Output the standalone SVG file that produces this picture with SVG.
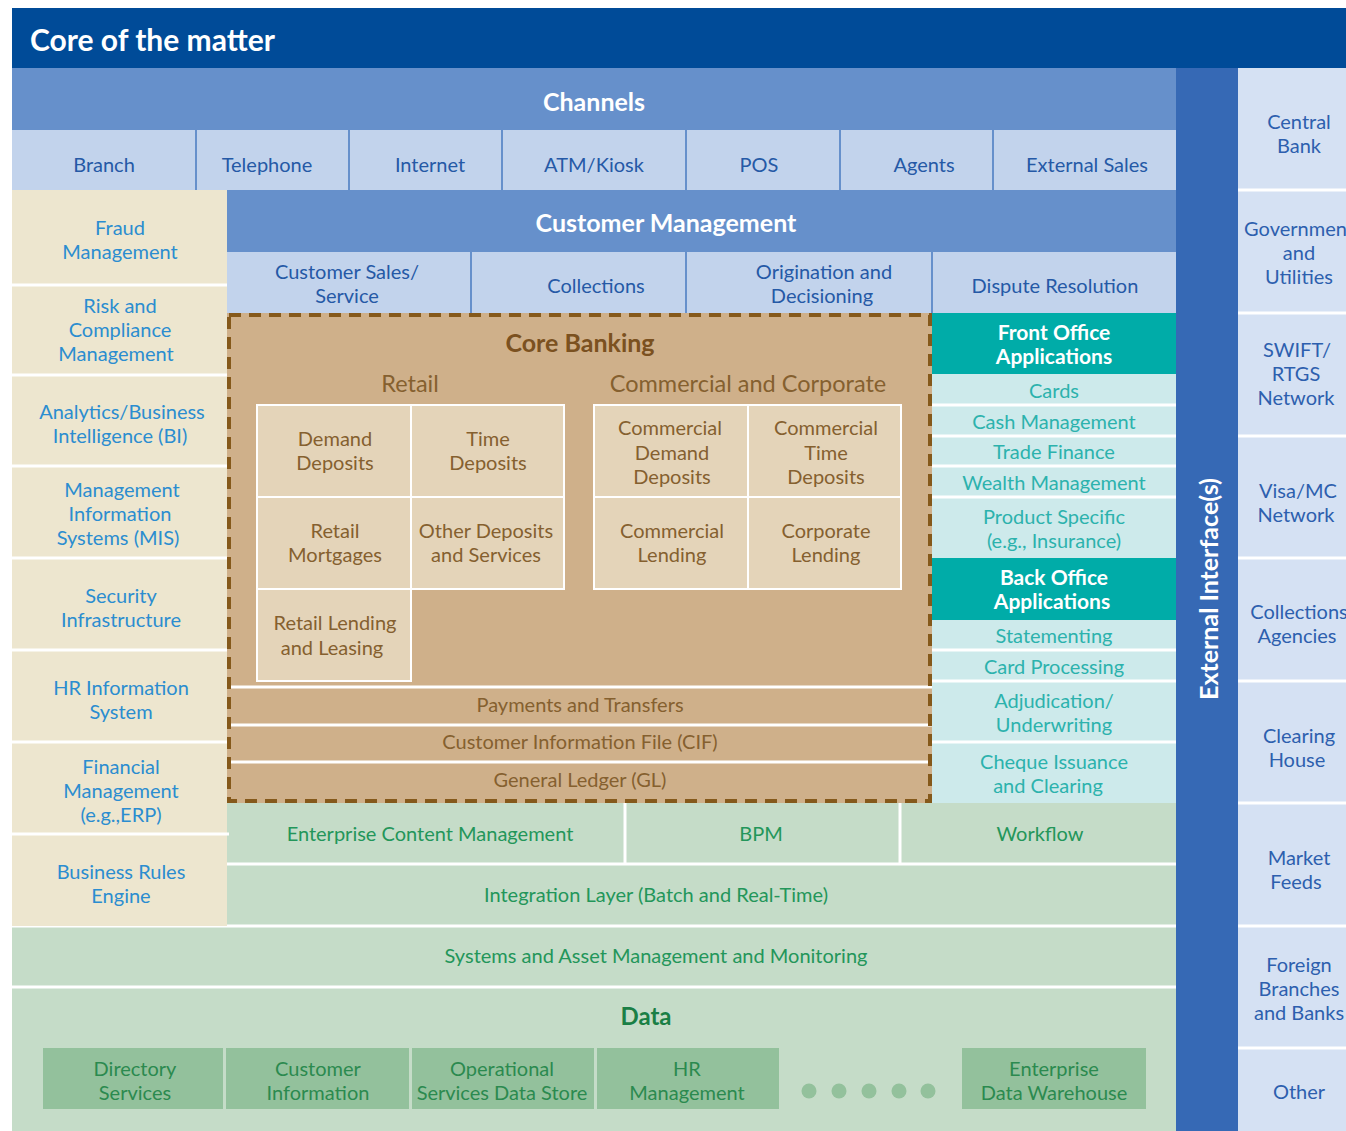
<svg xmlns="http://www.w3.org/2000/svg" width="1346" height="1131" viewBox="0 0 1346 1131">
<style>
text{font-family:Lato,"Open Sans","Liberation Sans",sans-serif;font-size:20px;text-anchor:middle}
.hd{font-weight:bold;font-size:25px;fill:#fff}
.ch{fill:#2559a6}
.lc{fill:#2b8dd0}
.rc{fill:#2d5fae}
.tn{fill:#85602f}
.tl{fill:#2cb2ad}
.gr{fill:#23965a}
.db{fill:#2b8a4f}
.wsep{stroke:#fff;stroke-width:3}
.bsep{stroke:#6690cb;stroke-width:2}
.inner{fill:#e4d4b9;stroke:#fff;stroke-width:2}
</style>
<rect x="0" y="0" width="1346" height="1131" fill="#fff"/>
<g id="header">
<rect x="12" y="8" width="1334" height="60" fill="#004b98"/>
<text x="30" y="51" style="text-anchor:start;font-weight:bold;font-size:30px;fill:#fff">Core of the matter</text>
</g>
<g id="channels">
<rect x="12" y="68" width="1164" height="62" fill="#6690cb"/>
<text class="hd" x="594" y="111">Channels</text>
<rect x="12" y="130" width="1164" height="60" fill="#c2d3ec"/>
<line class="bsep" x1="196" y1="130" x2="196" y2="190"/>
<line class="bsep" x1="349" y1="130" x2="349" y2="190"/>
<line class="bsep" x1="502" y1="130" x2="502" y2="190"/>
<line class="bsep" x1="686" y1="130" x2="686" y2="190"/>
<line class="bsep" x1="840" y1="130" x2="840" y2="190"/>
<line class="bsep" x1="993" y1="130" x2="993" y2="190"/>
<text class="ch" x="104" y="172">Branch</text>
<text class="ch" x="267" y="172">Telephone</text>
<text class="ch" x="430" y="172">Internet</text>
<text class="ch" x="594" y="172">ATM/Kiosk</text>
<text class="ch" x="759" y="172">POS</text>
<text class="ch" x="924" y="172">Agents</text>
<text class="ch" x="1087" y="172">External Sales</text>
</g>
<g id="green-layers">
<rect x="227" y="803" width="949" height="123" fill="#c5dcc8"/>
<rect x="12" y="926" width="1164" height="205" fill="#c5dcc8"/>
<line class="wsep" x1="625" y1="803" x2="625" y2="864"/>
<line class="wsep" x1="900" y1="803" x2="900" y2="864"/>
<line class="wsep" x1="227" y1="864" x2="1176" y2="864"/>
<line class="wsep" x1="12" y1="926" x2="1176" y2="926"/>
<line class="wsep" x1="12" y1="987" x2="1176" y2="987"/>
<text class="gr" x="430" y="841">Enterprise Content Management</text>
<text class="gr" x="761" y="841">BPM</text>
<text class="gr" x="1040" y="841">Workflow</text>
<text class="gr" x="656" y="902">Integration Layer (Batch and Real-Time)</text>
<text class="gr" x="656" y="963">Systems and Asset Management and Monitoring</text>
<text x="646" y="1025" style="font-weight:bold;font-size:24px;fill:#1a7f45">Data</text>
</g>
<g id="left-column">
<rect x="12" y="190" width="215" height="736" fill="#ede6cf"/>
<line class="wsep" x1="12" y1="285" x2="229" y2="285"/>
<line class="wsep" x1="12" y1="375" x2="229" y2="375"/>
<line class="wsep" x1="12" y1="466" x2="229" y2="466"/>
<line class="wsep" x1="12" y1="558" x2="229" y2="558"/>
<line class="wsep" x1="12" y1="650" x2="229" y2="650"/>
<line class="wsep" x1="12" y1="742" x2="229" y2="742"/>
<line class="wsep" x1="12" y1="834" x2="229" y2="834"/>
<text class="lc" x="120" y="235">Fraud</text>
<text class="lc" x="120" y="259">Management</text>
<text class="lc" x="120" y="313">Risk and</text>
<text class="lc" x="120" y="337">Compliance</text>
<text class="lc" x="116" y="361">Management</text>
<text class="lc" x="122" y="419">Analytics/Business</text>
<text class="lc" x="120" y="443">Intelligence (BI)</text>
<text class="lc" x="122" y="497">Management</text>
<text class="lc" x="120" y="521">Information</text>
<text class="lc" x="118" y="545">Systems (MIS)</text>
<text class="lc" x="121" y="603">Security</text>
<text class="lc" x="121" y="627">Infrastructure</text>
<text class="lc" x="121" y="695">HR Information</text>
<text class="lc" x="121" y="719">System</text>
<text class="lc" x="121" y="774">Financial</text>
<text class="lc" x="121" y="798">Management</text>
<text class="lc" x="121" y="822">(e.g.,ERP)</text>
<text class="lc" x="121" y="879">Business Rules</text>
<text class="lc" x="121" y="903">Engine</text>
</g>
<g id="customer-management">
<rect x="227" y="190" width="949" height="62" fill="#6690cb"/>
<text class="hd" x="666" y="232">Customer Management</text>
<rect x="227" y="252" width="949" height="61" fill="#c2d3ec"/>
<line class="bsep" x1="471" y1="252" x2="471" y2="313"/>
<line class="bsep" x1="686" y1="252" x2="686" y2="313"/>
<line class="bsep" x1="932" y1="252" x2="932" y2="313"/>
<text class="ch" x="347" y="279">Customer Sales/</text>
<text class="ch" x="347" y="303">Service</text>
<text class="ch" x="596" y="293">Collections</text>
<text class="ch" x="824" y="279">Origination and</text>
<text class="ch" x="822" y="303">Decisioning</text>
<text class="ch" x="1055" y="293">Dispute Resolution</text>
</g>
<g id="core-banking">
<rect x="227" y="313" width="705" height="490" fill="#cfb08a"/>
<text x="580" y="352" style="font-weight:bold;font-size:25px;fill:#7b5120">Core Banking</text>
<text class="tn" x="410" y="392" style="font-size:23.5px">Retail</text>
<text class="tn" x="748" y="392" style="font-size:23.5px">Commercial and Corporate</text>
<rect class="inner" x="257" y="405" width="154" height="92"/>
<rect class="inner" x="411" y="405" width="153" height="92"/>
<rect class="inner" x="257" y="497" width="154" height="92"/>
<rect class="inner" x="411" y="497" width="153" height="92"/>
<rect class="inner" x="257" y="589" width="154" height="92"/>
<rect class="inner" x="594" y="405" width="154" height="92"/>
<rect class="inner" x="748" y="405" width="153" height="92"/>
<rect class="inner" x="594" y="497" width="154" height="92"/>
<rect class="inner" x="748" y="497" width="153" height="92"/>
<text class="tn" x="335" y="446">Demand</text>
<text class="tn" x="335" y="470">Deposits</text>
<text class="tn" x="488" y="446">Time</text>
<text class="tn" x="488" y="470">Deposits</text>
<text class="tn" x="670" y="435">Commercial</text>
<text class="tn" x="672" y="460">Demand</text>
<text class="tn" x="672" y="484">Deposits</text>
<text class="tn" x="826" y="435">Commercial</text>
<text class="tn" x="826" y="460">Time</text>
<text class="tn" x="826" y="484">Deposits</text>
<text class="tn" x="335" y="538">Retail</text>
<text class="tn" x="335" y="562">Mortgages</text>
<text class="tn" x="486" y="538">Other Deposits</text>
<text class="tn" x="486" y="562">and Services</text>
<text class="tn" x="672" y="538">Commercial</text>
<text class="tn" x="672" y="562">Lending</text>
<text class="tn" x="826" y="538">Corporate</text>
<text class="tn" x="826" y="562">Lending</text>
<text class="tn" x="335" y="630">Retail Lending</text>
<text class="tn" x="332" y="655">and Leasing</text>
<line class="wsep" x1="227" y1="687" x2="932" y2="687"/>
<line class="wsep" x1="227" y1="725" x2="932" y2="725"/>
<line class="wsep" x1="227" y1="762" x2="932" y2="762"/>
<text class="tn" x="580" y="712">Payments and Transfers</text>
<text class="tn" x="580" y="749">Customer Information File (CIF)</text>
<text class="tn" x="580" y="787">General Ledger (GL)</text>
<rect x="229" y="315" width="701" height="486" fill="none" stroke="#85591b" stroke-width="4" stroke-dasharray="12 8"/>
</g>
<g id="office-applications">
<rect x="932" y="313" width="244" height="490" fill="#cdeaeb"/>
<rect x="932" y="313" width="244" height="61" fill="#00aca8"/>
<rect x="932" y="558" width="244" height="62" fill="#00aca8"/>
<line class="wsep" x1="932" y1="405" x2="1176" y2="405"/>
<line class="wsep" x1="932" y1="436" x2="1176" y2="436"/>
<line class="wsep" x1="932" y1="466" x2="1176" y2="466"/>
<line class="wsep" x1="932" y1="497" x2="1176" y2="497"/>
<line class="wsep" x1="932" y1="650" x2="1176" y2="650"/>
<line class="wsep" x1="932" y1="681" x2="1176" y2="681"/>
<line class="wsep" x1="932" y1="742" x2="1176" y2="742"/>
<text x="1054" y="340" style="font-weight:bold;font-size:21px;fill:#fff">Front Office</text>
<text x="1054" y="364" style="font-weight:bold;font-size:21px;fill:#fff">Applications</text>
<text class="tl" x="1054" y="398">Cards</text>
<text class="tl" x="1054" y="429">Cash Management</text>
<text class="tl" x="1054" y="459">Trade Finance</text>
<text class="tl" x="1054" y="490">Wealth Management</text>
<text class="tl" x="1054" y="524">Product Specific</text>
<text class="tl" x="1054" y="548">(e.g., Insurance)</text>
<text x="1054" y="585" style="font-weight:bold;font-size:21px;fill:#fff">Back Office</text>
<text x="1052" y="609" style="font-weight:bold;font-size:21px;fill:#fff">Applications</text>
<text class="tl" x="1054" y="643">Statementing</text>
<text class="tl" x="1054" y="674">Card Processing</text>
<text class="tl" x="1054" y="708">Adjudication/</text>
<text class="tl" x="1054" y="732">Underwriting</text>
<text class="tl" x="1054" y="769">Cheque Issuance</text>
<text class="tl" x="1048" y="793">and Clearing</text>
</g>
<g id="data-stores">
<rect x="43" y="1048" width="180" height="61" fill="#93c19c"/>
<rect x="226" y="1048" width="183" height="61" fill="#93c19c"/>
<rect x="412" y="1048" width="182" height="61" fill="#93c19c"/>
<rect x="597" y="1048" width="182" height="61" fill="#93c19c"/>
<rect x="962" y="1048" width="184" height="61" fill="#93c19c"/>
<g fill="#93c19c">
<circle cx="809" cy="1091" r="7.5"/>
<circle cx="839" cy="1091" r="7.5"/>
<circle cx="869" cy="1091" r="7.5"/>
<circle cx="899" cy="1091" r="7.5"/>
<circle cx="928" cy="1091" r="7.5"/>
</g>
<text class="db" x="135" y="1076">Directory</text>
<text class="db" x="135" y="1100">Services</text>
<text class="db" x="318" y="1076">Customer</text>
<text class="db" x="318" y="1100">Information</text>
<text class="db" x="502" y="1076">Operational</text>
<text class="db" x="502" y="1100">Services Data Store</text>
<text class="db" x="687" y="1076">HR</text>
<text class="db" x="687" y="1100">Management</text>
<text class="db" x="1054" y="1076">Enterprise</text>
<text class="db" x="1054" y="1100">Data Warehouse</text>
</g>
<g id="external-interfaces">
<rect x="1176" y="68" width="62" height="1063" fill="#3669b5"/>
<text transform="translate(1218,589) rotate(-90)" style="font-weight:bold;font-size:25px;fill:#fff">External Interface(s)</text>
</g>
<g id="external-parties">
<rect x="1238" y="68" width="108" height="1063" fill="#d5e1f3"/>
<line class="wsep" x1="1238" y1="190" x2="1346" y2="190"/>
<line class="wsep" x1="1238" y1="313" x2="1346" y2="313"/>
<line class="wsep" x1="1238" y1="436" x2="1346" y2="436"/>
<line class="wsep" x1="1238" y1="558" x2="1346" y2="558"/>
<line class="wsep" x1="1238" y1="681" x2="1346" y2="681"/>
<line class="wsep" x1="1238" y1="803" x2="1346" y2="803"/>
<line class="wsep" x1="1238" y1="926" x2="1346" y2="926"/>
<line class="wsep" x1="1238" y1="1048" x2="1346" y2="1048"/>
<text class="rc" x="1299" y="129">Central</text>
<text class="rc" x="1299" y="153">Bank</text>
<text class="rc" x="1299" y="236">Government</text>
<text class="rc" x="1299" y="260">and</text>
<text class="rc" x="1299" y="284">Utilities</text>
<text class="rc" x="1297" y="357">SWIFT/</text>
<text class="rc" x="1296" y="381">RTGS</text>
<text class="rc" x="1296" y="405">Network</text>
<text class="rc" x="1298" y="498">Visa/MC</text>
<text class="rc" x="1296" y="522">Network</text>
<text class="rc" x="1299" y="619">Collections</text>
<text class="rc" x="1297" y="643">Agencies</text>
<text class="rc" x="1299" y="743">Clearing</text>
<text class="rc" x="1297" y="767">House</text>
<text class="rc" x="1299" y="865">Market</text>
<text class="rc" x="1296" y="889">Feeds</text>
<text class="rc" x="1299" y="972">Foreign</text>
<text class="rc" x="1299" y="996">Branches</text>
<text class="rc" x="1299" y="1020">and Banks</text>
<text class="rc" x="1299" y="1099">Other</text>
</g>
</svg>
